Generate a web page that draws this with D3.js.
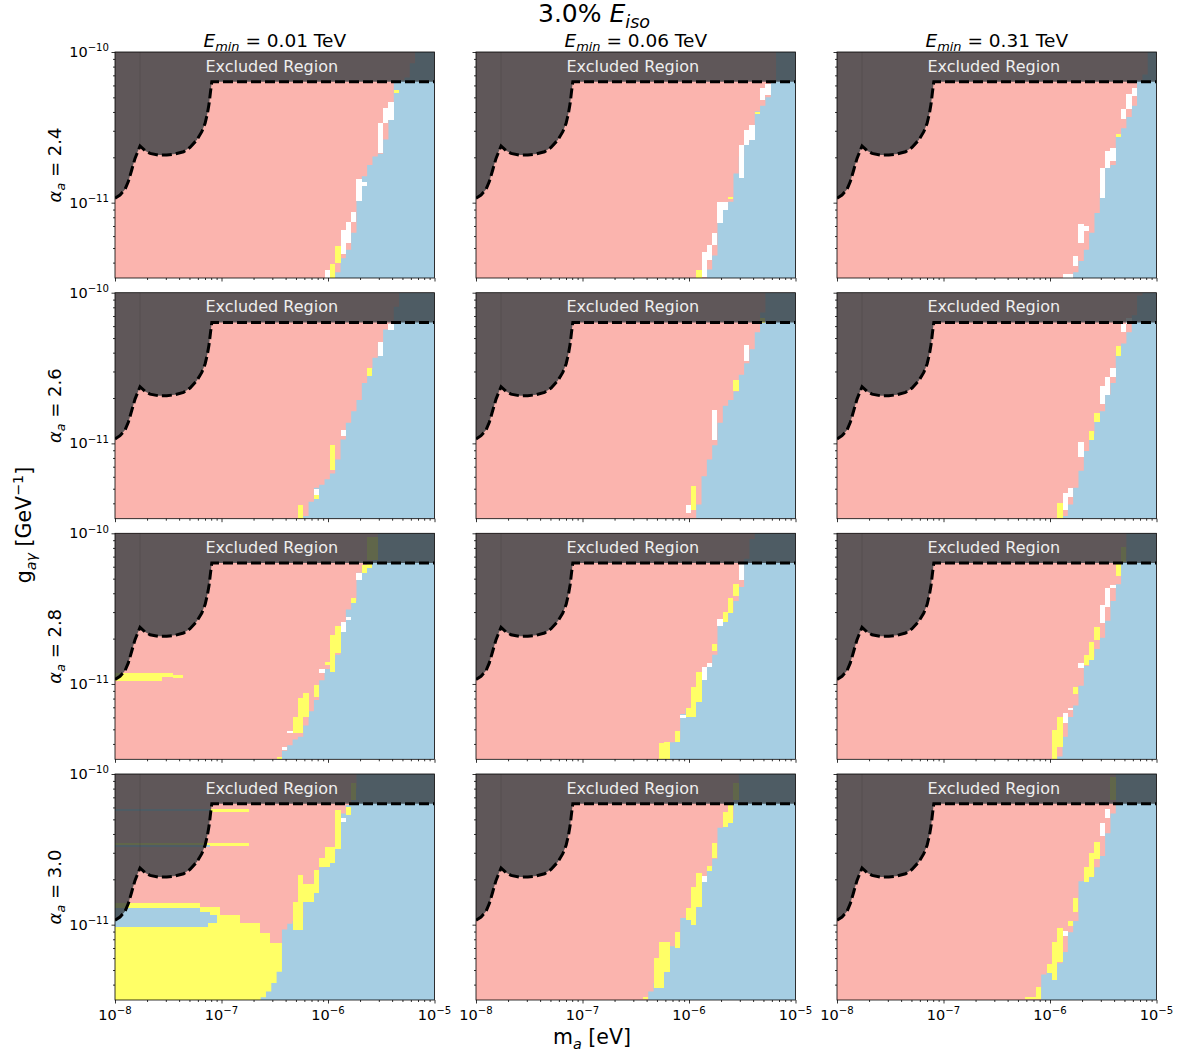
<!DOCTYPE html>
<html><head><meta charset="utf-8">
<script src="https://cdn.jsdelivr.net/npm/d3@7"></script>
<style>body{margin:0;background:#fff} text{font-family:"DejaVu Sans",sans-serif}</style>
</head><body><svg id="c" width="1191" height="1057"></svg>
<script>
// ---------------- DATA ----------------
const eminLabels = ["0.01", "0.06", "0.31"];
const alphaLabels = ["2.4", "2.6", "2.8", "3.0"];
const suptitlePct = "3.0%";
const xTickExps = [-8, -7, -6, -5];
const yTickExps = [-11, -10];
const massDomain = [1e-8, 1e-5];
const couplingDomain = [Math.pow(10, -11.5), 1e-10];

// exclusion curve (log10 m, log10 g)
const exclusionLogM = [-8, -7.953, -7.906, -7.875, -7.843, -7.812, -7.765, -7.718, -7.671, -7.592, -7.514, -7.436, -7.357, -7.295, -7.232, -7.185, -7.154, -7.132, -7.116, -7.103, -7.091, -5];
const exclusionLogG = [-10.971, -10.949, -10.912, -10.860, -10.783, -10.706, -10.624, -10.655, -10.673, -10.684, -10.684, -10.677, -10.662, -10.633, -10.584, -10.529, -10.473, -10.407, -10.341, -10.263, -10.197, -10.197];

// pink/blue boundary: [log10 g, log10 m where blue starts]
const boundaryA24E001 = [[-11.50,-5.93],[-11.40,-5.88],[-11.34,-5.83],[-11.27,-5.78],[-11.13,-5.73],[-10.86,-5.69],[-10.81,-5.63],[-10.69,-5.58],[-10.67,-5.48],[-10.47,-5.43],[-10.33,-5.38],[-10.20,-5.38],[-10.16,-5.23],[-10.00,-5.19]];
const boundaryA24E006 = [[-11.498,-5.831],[-11.381,-5.777],[-11.281,-5.727],[-11.20,-5.721],[-11.14,-5.721],[-11.10,-5.674],[-11.05,-5.674],[-11.00,-5.627],[-10.97,-5.574],[-10.85,-5.574],[-10.617,-5.470],[-10.518,-5.423],[-10.485,-5.376],[-10.407,-5.376],[-10.319,-5.273],[-10.285,-5.219],[-10.208,-5.219],[-10.164,-5.172],[-10.0,-5.157]];
const boundaryA24E031 = [[-11.498,-5.781],[-11.420,-5.727],[-11.265,-5.630],[-11.100,-5.567],[-10.967,-5.514],[-10.768,-5.461],[-10.723,-5.373],[-10.580,-5.373],[-10.447,-5.263],[-10.381,-5.216],[-10.292,-5.169],[-10.204,-5.169],[-10.159,-5.107],[-10.0,-5.091]];
const boundaryA26E001 = [[-11.495,-6.213],[-11.31,-6.119],[-11.177,-5.931],[-10.911,-5.837],[-10.745,-5.724],[-10.579,-5.649],[-10.38,-5.527],[-10.248,-5.461],[-10.194,-5.395],[-10.0,-5.32]];
const boundaryA26E006 = [[-11.497,-5.922],[-11.31,-5.893],[-11.177,-5.837],[-10.978,-5.743],[-10.779,-5.686],[-10.646,-5.536],[-10.513,-5.498],[-10.414,-5.423],[-10.314,-5.376],[-10.194,-5.329],[-10.0,-5.254]];
const boundaryA26E031 = [[-11.498,-5.875],[-11.442,-5.828],[-11.354,-5.781],[-11.232,-5.727],[-11.088,-5.671],[-10.978,-5.624],[-10.856,-5.567],[-10.801,-5.514],[-10.679,-5.461],[-10.624,-5.420],[-10.558,-5.373],[-10.420,-5.373],[-10.347,-5.317],[-10.270,-5.263],[-10.192,-5.232],[-10.093,-5.169],[-10.0,-5.154]];
const boundaryA28E001 = [[-11.5,-6.439],[-11.427,-6.392],[-11.327,-6.229],[-11.217,-6.182],[-11.150,-6.135],[-11.084,-6.088],[-10.918,-6.041],[-10.796,-5.884],[-10.619,-5.884],[-10.575,-5.837],[-10.465,-5.790],[-10.431,-5.727],[-10.265,-5.727],[-10.221,-5.633],[-10.192,-5.586],[-10.111,-5.539],[-10.0,-5.524]];
const boundaryA28E006 = [[-11.5,-6.182],[-11.394,-6.182],[-11.350,-6.082],[-11.217,-6.082],[-11.150,-5.987],[-11.062,-5.878],[-10.973,-5.878],[-10.929,-5.831],[-10.841,-5.784],[-10.752,-5.721],[-10.615,-5.721],[-10.575,-5.643],[-10.487,-5.574],[-10.376,-5.524],[-10.310,-5.470],[-10.192,-5.470],[-10.088,-5.423],[-10.0,-5.392]];
const boundaryA28E031 = [[-11.5,-5.922],[-11.416,-5.875],[-11.261,-5.828],[-11.173,-5.774],[-11.066,-5.724],[-10.896,-5.671],[-10.841,-5.618],[-10.708,-5.514],[-10.597,-5.467],[-10.487,-5.420],[-10.365,-5.373],[-10.283,-5.310],[-10.192,-5.310],[-10.088,-5.295],[-10.0,-5.263]];
const boundaryA30E001 = [[-11.5,-6.636],[-11.43,-6.542],[-11.36,-6.489],[-11.26,-6.433],[-11.06,-6.433],[-11.01,-6.386],[-10.94,-6.229],[-10.85,-6.229],[-10.75,-6.135],[-10.63,-6.088],[-10.59,-5.978],[-10.48,-5.931],[-10.31,-5.884],[-10.24,-5.837],[-10.19,-5.784],[-10.0,-5.727]];
const boundaryA30E006 = [[-11.496,-6.389],[-11.412,-6.332],[-11.312,-6.232],[-11.157,-6.182],[-11.135,-6.082],[-10.969,-6.082],[-10.925,-5.925],[-10.726,-5.878],[-10.659,-5.831],[-10.571,-5.774],[-10.560,-5.721],[-10.350,-5.721],[-10.327,-5.618],[-10.188,-5.574],[-10.0,-5.517]];
const boundaryA30E031 = [[-11.496,-6.072],[-11.345,-6.072],[-11.246,-5.875],[-11.075,-5.828],[-11.007,-5.771],[-10.914,-5.724],[-10.715,-5.724],[-10.681,-5.618],[-10.566,-5.514],[-10.412,-5.467],[-10.294,-5.420],[-10.188,-5.373],[-10.0,-5.364]];

// white / yellow cells [m0, m1, g0, g1] (log10)
const whiteA24E001 = [[-6.03,-5.98,-11.50,-11.45],[-5.88,-5.83,-11.34,-11.18],[-5.83,-5.78,-11.27,-11.13],[-5.78,-5.73,-11.13,-11.06],[-5.73,-5.68,-10.99,-10.84],[-5.68,-5.63,-10.89,-10.86],[-5.53,-5.48,-10.67,-10.47],[-5.48,-5.43,-10.47,-10.37],[-5.43,-5.38,-10.45,-10.33]];
const yellowA24E001 = [[-5.98,-5.93,-11.50,-11.41],[-5.93,-5.88,-11.40,-11.29],[-5.38,-5.33,-10.27,-10.25]];
const whiteA24E006 = [[-5.871,-5.831,-11.491,-11.325],[-5.831,-5.777,-11.381,-11.281],[-5.777,-5.727,-11.281,-11.204],[-5.721,-5.674,-11.137,-10.993],[-5.674,-5.627,-11.049,-10.993],[-5.517,-5.470,-10.838,-10.617],[-5.470,-5.423,-10.617,-10.518],[-5.423,-5.376,-10.584,-10.485],[-5.320,-5.273,-10.319,-10.241],[-5.273,-5.219,-10.285,-10.215]];
const yellowA24E006 = [[-5.934,-5.871,-11.498,-11.447],[-5.376,-5.320,-10.414,-10.396],[-5.627,-5.574,-10.976,-10.960]];
const whiteA24E031 = [[-5.868,-5.781,-11.498,-11.476],[-5.774,-5.727,-11.420,-11.354],[-5.727,-5.677,-11.265,-11.144],[-5.677,-5.630,-11.188,-11.155],[-5.514,-5.461,-10.967,-10.768],[-5.461,-5.420,-10.768,-10.657],[-5.420,-5.373,-10.723,-10.635],[-5.317,-5.263,-10.447,-10.381],[-5.263,-5.216,-10.381,-10.281],[-5.216,-5.169,-10.292,-10.237]];
const yellowA24E031 = [[-5.373,-5.317,-10.566,-10.546]];
const whiteA26E001 = [[-6.14,-6.09,-11.34,-11.30],[-5.88,-5.83,-10.95,-10.91],[-5.53,-5.48,-10.42,-10.33],[-5.43,-5.38,-10.25,-10.21]];
const yellowA26E001 = [[-6.29,-6.22,-11.50,-11.41],[-6.0,-5.93,-11.18,-11.01],[-6.14,-6.09,-11.37,-11.34],[-5.62,-5.57,-10.55,-10.50]];
const whiteA26E006 = [[-6.04,-5.99,-11.46,-11.41],[-5.78,-5.74,-10.98,-10.78],[-5.47,-5.42,-10.45,-10.35]];
const yellowA26E006 = [[-5.99,-5.93,-11.44,-11.28],[-5.58,-5.53,-10.65,-10.58],[-5.35,-5.30,-10.2,-10.17]];
const whiteA26E031 = [[-5.875,-5.828,-11.442,-11.332],[-5.828,-5.781,-11.354,-11.299],[-5.724,-5.671,-11.088,-10.989],[-5.514,-5.461,-10.74,-10.62],[-5.461,-5.42,-10.68,-10.56],[-5.42,-5.373,-10.56,-10.50],[-5.317,-5.28,-10.26,-10.21],[-5.28,-5.232,-10.21,-10.17]];
const yellowA26E031 = [[-5.931,-5.875,-11.498,-11.398],[-5.624,-5.567,-10.978,-10.916],[-5.567,-5.514,-10.856,-10.801],[-5.373,-5.317,-10.420,-10.354]];
const whiteA28E001 = [[-6.439,-6.392,-11.438,-11.416],[-6.392,-6.339,-11.327,-11.31],[-6.088,-6.041,-10.925,-10.903],[-5.884,-5.837,-10.653,-10.586],[-5.837,-5.790,-10.575,-10.553],[-5.727,-5.680,-10.310,-10.265]];
const yellowA28E001 = [[-6.495,-6.439,-11.5,-11.487],[-6.339,-6.292,-11.327,-11.217],[-6.292,-6.235,-11.327,-11.095],[-6.235,-6.182,-11.217,-11.062],[-6.135,-6.088,-11.084,-11.007],[-6.041,-5.978,-10.874,-10.852],[-5.978,-5.931,-10.918,-10.675],[-5.931,-5.884,-10.796,-10.615],[-5.790,-5.727,-10.465,-10.431],[-5.680,-5.633,-10.265,-10.210],[-5.633,-5.586,-10.232,-10.199],[-5.633,-5.524,-10.177,-10.022]];
const yellowStripsA28E001 = [[-8,-7.561,-10.980,-10.929],[-7.561,-7.451,-10.951,-10.929],[-7.451,-7.357,-10.962,-10.940]];
const whiteA28E006 = [[-6.082,-6.035,-11.228,-11.206],[-5.878,-5.831,-10.973,-10.885],[-5.831,-5.784,-10.885,-10.858],[-5.721,-5.674,-10.615,-10.571],[-5.517,-5.470,-10.310,-10.199]];
const yellowA28E006 = [[-6.279,-6.182,-11.5,-11.394],[-6.232,-6.182,-11.438,-11.383],[-6.129,-6.082,-11.383,-11.310],[-6.025,-5.978,-11.217,-11.161],[-5.978,-5.925,-11.217,-11.018],[-5.925,-5.878,-11.117,-10.918],[-5.777,-5.721,-10.779,-10.735],[-5.674,-5.627,-10.586,-10.520],[-5.627,-5.574,-10.531,-10.431],[-5.574,-5.524,-10.416,-10.336]];
const whiteA28E031 = [[-5.875,-5.828,-11.261,-11.195],[-5.828,-5.774,-11.173,-11.161],[-5.724,-5.671,-10.896,-10.858],[-5.514,-5.467,-10.597,-10.476],[-5.467,-5.420,-10.487,-10.365],[-5.420,-5.373,-10.365,-10.343]];
const yellowA28E031 = [[-5.978,-5.922,-11.5,-11.305],[-5.928,-5.875,-11.416,-11.217],[-5.774,-5.724,-11.066,-11.018],[-5.671,-5.618,-10.874,-10.808],[-5.618,-5.567,-10.841,-10.719],[-5.567,-5.514,-10.708,-10.624],[-5.364,-5.310,-10.283,-10.192],[-5.33,-5.28,-10.19,-10.09]];
const yellowRegionA30E001 = [[-8,-7.201,-11.5,-10.854],[-7.201,-7.013,-11.5,-10.881],[-7.013,-6.824,-11.5,-10.936],[-6.824,-6.636,-11.5,-10.991],[-6.636,-6.542,-11.5,-11.058],[-6.542,-6.433,-11.5,-11.124]];
const blueLensA30E001 = [[-8,-7.201,-10.914,-10.892],[-8,-7.107,-10.936,-10.914],[-8,-7.044,-10.991,-10.936],[-8,-7.13,-11.013,-10.991],[-8,-7.107,-10.245,-10.232],[-8,-7.107,-10.482,-10.472]];
const yellowStripsA30E001 = [[-7.107,-6.746,-10.25,-10.232],[-7.107,-6.746,-10.476,-10.46],[-8,-7.107,-10.472,-10.458]];
const whiteA30E001 = [[-5.884,-5.837,-10.32,-10.29]];
const yellowA30E001 = [[-6.339,-6.229,-11.035,-10.848],[-6.292,-6.229,-10.848,-10.670],[-6.26,-6.135,-10.85,-10.73],[-6.135,-6.088,-10.79,-10.64],[-6.088,-5.978,-10.615,-10.56],[-6.04,-5.931,-10.593,-10.482],[-5.95,-5.884,-10.50,-10.24],[-5.837,-5.784,-10.27,-10.217],[-5.784,-5.727,-10.17,-10.06]];
const whiteA30E006 = [[-5.868,-5.831,-10.715,-10.677]];
const yellowA30E006 = [[-6.433,-6.389,-11.496,-11.478],[-6.332,-6.232,-11.418,-11.223],[-6.279,-6.182,-11.312,-11.113],[-6.129,-6.082,-11.157,-11.046],[-6.025,-5.972,-10.969,-10.892],[-5.978,-5.925,-11.002,-10.748],[-5.925,-5.878,-10.881,-10.659],[-5.831,-5.774,-10.644,-10.611],[-5.774,-5.721,-10.560,-10.456],[-5.674,-5.618,-10.350,-10.250],[-5.618,-5.574,-10.323,-10.206],[-5.574,-5.517,-10.173,-10.062]];
const whiteA30E031 = [[-5.875,-5.828,-11.075,-11.040],[-5.514,-5.467,-10.412,-10.327],[-5.467,-5.420,-10.294,-10.235]];
const yellowA30E031 = [[-6.219,-6.125,-11.496,-11.482],[-6.132,-6.072,-11.496,-11.412],[-6.031,-5.978,-11.323,-11.261],[-5.978,-5.928,-11.367,-11.113],[-5.928,-5.875,-11.246,-11.024],[-5.821,-5.771,-11.007,-10.976],[-5.771,-5.724,-10.914,-10.825],[-5.671,-5.618,-10.715,-10.615],[-5.618,-5.567,-10.681,-10.522],[-5.567,-5.514,-10.566,-10.449],[-5.436,-5.373,-10.173,-10.018]];

// ---------------- STYLE / LAYOUT ----------------
const PINK = "#fbb4ae", BLUE = "#a6cee3", YELLOW = "#ffff66", WHITE = "#ffffff";
const colLeft = [115, 476, 837], rowTop = [52, 292.7, 533.3, 774];
const PW = 319.5, PH = 226;
const NROWS = 80, G_LO = -11.5, G_HI = -10, DG = (G_HI - G_LO) / NROWS;
const CELL = 0.05, OFF = 0.0175;

const panels = [
  {r:0,c:0,b:boundaryA24E001,w:whiteA24E001,y:yellowA24E001},
  {r:0,c:1,b:boundaryA24E006,w:whiteA24E006,y:yellowA24E006},
  {r:0,c:2,b:boundaryA24E031,w:whiteA24E031,y:yellowA24E031},
  {r:1,c:0,b:boundaryA26E001,w:whiteA26E001,y:yellowA26E001},
  {r:1,c:1,b:boundaryA26E006,w:whiteA26E006,y:yellowA26E006},
  {r:1,c:2,b:boundaryA26E031,w:whiteA26E031,y:yellowA26E031},
  {r:2,c:0,b:boundaryA28E001,w:whiteA28E001,y:yellowA28E001,over:[[YELLOW,yellowStripsA28E001]]},
  {r:2,c:1,b:boundaryA28E006,w:whiteA28E006,y:yellowA28E006},
  {r:2,c:2,b:boundaryA28E031,w:whiteA28E031,y:yellowA28E031},
  {r:3,c:0,b:boundaryA30E001,w:whiteA30E001,y:yellowA30E001,under:[[YELLOW,yellowRegionA30E001]],over:[[YELLOW,yellowStripsA30E001],[BLUE,blueLensA30E001]]},
  {r:3,c:1,b:boundaryA30E006,w:whiteA30E006,y:yellowA30E006},
  {r:3,c:2,b:boundaryA30E031,w:whiteA30E031,y:yellowA30E031}
];

const svg = d3.select("#c");
const P = v => Math.pow(10, v);
const x = d3.scaleLog().domain(massDomain).range([0, PW]);
const y = d3.scaleLog().domain(couplingDomain).range([PH, 0]);
const snapM = m => -8 + OFF + Math.round((m + 8 - OFF) / CELL) * CELL;

function interpB(b, gv) {
  if (gv <= b[0][0]) return b[0][1];
  for (let i = 1; i < b.length; i++) {
    if (gv <= b[i][0]) {
      const [g0, m0] = b[i - 1], [g1, m1] = b[i];
      return m0 + (m1 - m0) * (gv - g0) / (g1 - g0);
    }
  }
  return b[b.length - 1][1];
}

function mathText(sel, parts, size) {
  let prev = 0;
  parts.forEach(p => {
    const small = p.sub || p.sup;
    const shift = p.sub ? size * 0.22 : p.sup ? -size * 0.4 : 0;
    const ts = sel.append("tspan").text(p.t).attr("font-size", small ? size * 0.7 : size);
    if (p.it) ts.attr("font-style", "italic");
    if (shift !== prev) ts.attr("dy", shift - prev);
    prev = shift;
  });
}

const lineXY = d3.line().x(d => x(P(d[0]))).y(d => y(P(d[1])));
const exclCurve = exclusionLogM.map((m, i) => [m, exclusionLogG[i]]);

function drawRects(g, rects, fill, snap) {
  g.selectAll(null).data(rects).enter().append("rect")
    .attr("x", d => { const m0 = snap ? snapM(d[0]) : d[0]; return x(P(m0)); })
    .attr("width", d => {
      let m0 = d[0], m1 = d[1];
      if (snap) { m0 = snapM(m0); m1 = snapM(m1); if (m1 <= m0) m1 = m0 + CELL; }
      return x(P(m1)) - x(P(m0));
    })
    .attr("y", d => y(P(d[3])))
    .attr("height", d => y(P(d[2])) - y(P(d[3])))
    .attr("fill", fill).attr("shape-rendering", "crispEdges");
}

panels.forEach(p => {
  const g = svg.append("g").attr("transform", `translate(${colLeft[p.c]},${rowTop[p.r]})`);
  const cid = `clip${p.r}${p.c}`;
  g.append("clipPath").attr("id", cid).append("rect").attr("width", PW).attr("height", PH);
  const body = g.append("g").attr("clip-path", `url(#${cid})`);
  body.append("rect").attr("width", PW).attr("height", PH).attr("fill", PINK);
  (p.under || []).forEach(([f, rs]) => drawRects(body, rs, f, false));
  const pts = [[-5, G_LO]];
  d3.range(NROWS).forEach(j => {
    const g0 = G_LO + j * DG, g1 = g0 + DG;
    const s = snapM(interpB(p.b, (g0 + g1) / 2));
    pts.push([s, g0], [s, g1]);
  });
  pts.push([-5, G_HI]);
  body.append("path").attr("d", lineXY(pts) + "Z").attr("fill", BLUE);
  drawRects(body, p.w, WHITE, true);
  drawRects(body, p.y, YELLOW, true);
  (p.over || []).forEach(([f, rs]) => drawRects(body, rs, f, false));
  const poly = [[-8, -10], ...exclCurve, [-5, -10]];
  body.append("path").attr("d", lineXY(poly) + "Z").attr("fill", "rgb(56,64,67)").attr("fill-opacity", 0.8);
  body.append("line").attr("x1", x(P(exclusionLogM[6]))).attr("x2", x(P(exclusionLogM[6])))
    .attr("y1", y(P(exclusionLogG[6]))).attr("y2", 0).attr("stroke", "#3a3537").attr("stroke-opacity", 0.3).attr("stroke-width", 0.8);
  body.append("path").attr("d", lineXY(exclCurve)).attr("fill", "none").attr("stroke", "#000")
    .attr("stroke-width", 3).attr("stroke-dasharray", "10,4");
  g.append("text").attr("x", PW / 2 - 3).attr("y", 19.5).attr("text-anchor", "middle")
    .attr("font-size", 16).attr("fill", "#eeeeee").text("Excluded Region");
  const minorX = [], minorY = [];
  xTickExps.slice(0, -1).forEach(e => d3.range(2, 10).forEach(k => minorX.push(k * P(e))));
  [-12, -11].forEach(e => d3.range(2, 10).forEach(k => { const v = k * P(e); if (v >= couplingDomain[0] && v <= couplingDomain[1]) minorY.push(v); }));
  const ax = g.append("g").attr("transform", `translate(0,${PH})`);
  ax.call(d3.axisBottom(x).tickValues(xTickExps.map(P)).tickSize(3.5).tickFormat(""));
  ax.append("g").call(d3.axisBottom(x).tickValues(minorX).tickSize(2).tickFormat(""));
  const ay = g.append("g");
  ay.call(d3.axisLeft(y).tickValues(yTickExps.map(P)).tickSize(3.5).tickFormat(""));
  ay.append("g").call(d3.axisLeft(y).tickValues(minorY).tickSize(2).tickFormat(""));
  g.selectAll(".domain").remove();
  g.selectAll(".tick line").attr("stroke", "#000").attr("stroke-width", 0.8);
  g.append("rect").attr("width", PW).attr("height", PH).attr("fill", "none").attr("stroke", "#000").attr("stroke-width", 0.8);
  if (p.c === 0) {
    yTickExps.forEach(e => {
      const t = g.append("text").attr("x", -6).attr("y", y(P(e)) + 5).attr("text-anchor", "end").attr("fill", "#000");
      mathText(t, [{t: "10"}, {t: "\u2212" + Math.abs(e), sup: 1}], 14.5);
    });
    const rl = g.append("text").attr("transform", `translate(-54,${PH / 2}) rotate(-90)`).attr("text-anchor", "middle").attr("fill", "#000");
    mathText(rl, [{t: "\u03b1", it: 1}, {t: "a", it: 1, sub: 1}, {t: " = " + alphaLabels[p.r]}], 18);
  }
  if (p.r === 3) {
    xTickExps.forEach(e => {
      const t = g.append("text").attr("x", x(P(e))).attr("y", PH + 20).attr("text-anchor", "middle").attr("fill", "#000");
      mathText(t, [{t: "10"}, {t: "\u2212" + Math.abs(e), sup: 1}], 14.5);
    });
  }
  if (p.r === 0) {
    const tt = g.append("text").attr("x", PW / 2).attr("y", -5).attr("text-anchor", "middle").attr("fill", "#000");
    mathText(tt, [{t: "E", it: 1}, {t: "min", it: 1, sub: 1}, {t: " = " + eminLabels[p.c] + " TeV"}], 18.5);
  }
});

const st = svg.append("text").attr("x", 594).attr("y", 22).attr("text-anchor", "middle").attr("fill", "#000");
mathText(st, [{t: suptitlePct + " "}, {t: "E", it: 1}, {t: "iso", it: 1, sub: 1}], 25);
const yl = svg.append("text").attr("transform", "translate(31,525) rotate(-90)").attr("text-anchor", "middle").attr("fill", "#000");
mathText(yl, [{t: "g"}, {t: "a\u03b3", it: 1, sub: 1}, {t: " [GeV"}, {t: "\u22121", sup: 1}, {t: "]"}], 20.5);
const xl = svg.append("text").attr("x", 592).attr("y", 1044).attr("text-anchor", "middle").attr("fill", "#000");
mathText(xl, [{t: "m"}, {t: "a", it: 1, sub: 1}, {t: " [eV]"}], 20.5);
</script></body></html>
